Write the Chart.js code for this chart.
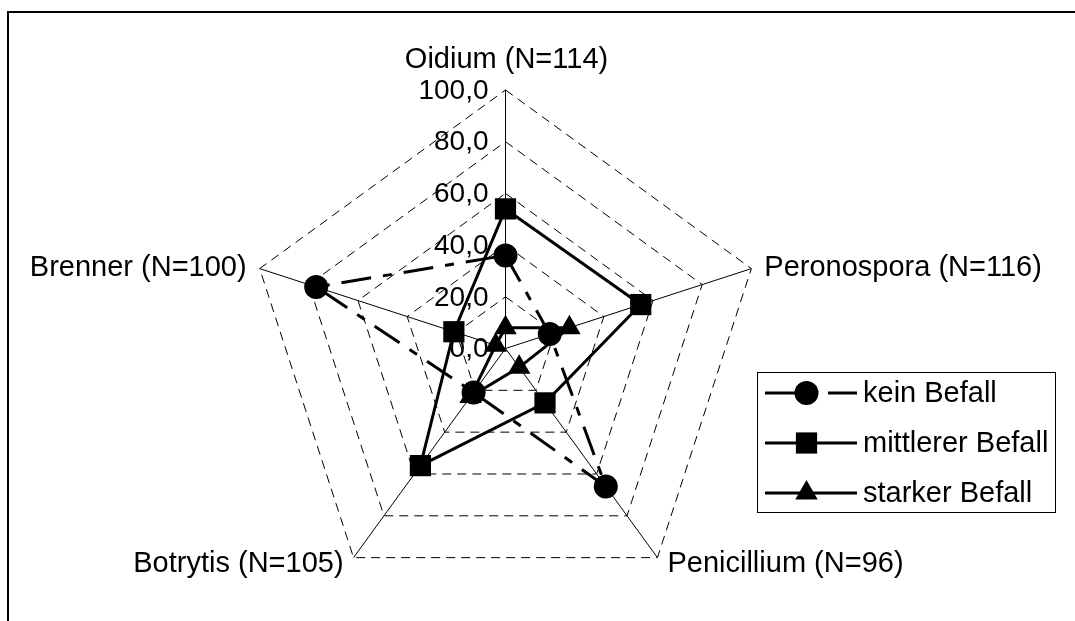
<!DOCTYPE html>
<html lang="de">
<head>
  <meta charset="UTF-8">
  <title>Befall Radar</title>
  <script src="https://cdn.jsdelivr.net/npm/chart.js"></script>
  <style>
    html, body { margin: 0; padding: 0; background: #fff; overflow: hidden; }
    #frame { position: absolute; left: 7px; top: 11px; width: 1200px; height: 800px; border: 2px solid #000; }
    canvas { position: absolute; left: 0; top: 0; }
  </style>
</head>
<body>
  <div id="frame"></div>
  <canvas id="radar" width="1075" height="621"></canvas>

  <script>
    // data
    const categories = ['Oidium (N=114)', 'Peronospora (N=116)', 'Penicillium (N=96)', 'Botrytis (N=105)', 'Brenner (N=100)'];
    const keinBefall = [36, 18, 66, 21, 77];
    const mittlererBefall = [54, 55, 26, 56, 21];
    const starkerBefall = [8, 26, 9, 23, 4];
    const tickValues = [0, 20, 40, 60, 80, 100];
    const tickLabels = ['0,0', '20,0', '40,0', '60,0', '80,0', '100,0'];

    const TICK_FONT = '28px "Liberation Sans", Arial, sans-serif';
    const FONT = '29px "Liberation Sans", Arial, sans-serif';

    // tick labels + category labels drawn through the radial scale
    const labelPlugin = {
      id: 'labels',
      beforeDatasetsDraw(chart) {
        const s = chart.scales.r;
        const ctx = chart.ctx;
        ctx.save();
        ctx.font = TICK_FONT;
        ctx.fillStyle = '#000';
        ctx.textAlign = 'right';
        ctx.textBaseline = 'middle';
        s.ticks.forEach(t => {
          const i = tickValues.indexOf(t.value);
          if (i < 0) return;
          const d = s.getDistanceFromCenterForValue(t.value);
          ctx.fillText(tickLabels[i], s.xCenter - 17, s.yCenter - d + 1);
        });
        ctx.font = FONT;
        categories.forEach((c, i) => {
          const p = s.getPointPosition(i, s.drawingArea);
          const cx = Math.cos(p.angle), sy = Math.sin(p.angle);
          if (Math.abs(cx) < 0.1) {
            ctx.textAlign = 'center';
            ctx.textBaseline = 'alphabetic';
            ctx.fillText(c, p.x + 1, p.y - 22);
          } else {
            ctx.textAlign = cx > 0 ? 'left' : 'right';
            ctx.textBaseline = 'middle';
            const dx = sy > 0.5 ? 10 : 13;
            const dy = sy > 0.5 ? 6 : -1;
            ctx.fillText(c, p.x + (cx > 0 ? dx : -dx), p.y + dy);
          }
        });
        ctx.restore();
      }
    };

    // legend box: line sample with marker, like the original
    const legendPlugin = {
      id: 'boxLegend',
      afterDraw(chart) {
        const ctx = chart.ctx;
        const x0 = 757.5, y0 = 372.5, w = 298, h = 140;
        ctx.save();
        ctx.fillStyle = '#fff';
        ctx.fillRect(x0, y0, w, h);
        ctx.strokeStyle = '#000';
        ctx.lineWidth = 1;
        ctx.strokeRect(x0, y0, w, h);
        chart.data.datasets.forEach((ds, i) => {
          const y = 393 + i * 50;
          ctx.strokeStyle = ds.borderColor;
          ctx.lineWidth = ds.borderWidth;
          ctx.setLineDash(ds.borderDash || []);
          ctx.beginPath();
          ctx.moveTo(765, y);
          ctx.lineTo(857, y);
          ctx.stroke();
          ctx.setLineDash([]);
          ctx.fillStyle = ds.pointBackgroundColor;
          ctx.lineWidth = 0;
          Chart.helpers.drawPoint(ctx, { pointStyle: ds.pointStyle, radius: ds.pointRadius, rotation: 0, borderWidth: 0 }, 806.5, y);
          ctx.fillStyle = '#000';
          ctx.font = FONT;
          ctx.textAlign = 'left';
          ctx.textBaseline = 'middle';
          ctx.fillText(ds.label, 863, y + 1);
        });
        ctx.restore();
      }
    };

    const common = {
      borderColor: '#000',
      backgroundColor: '#000',
      pointBackgroundColor: '#000',
      pointBorderColor: '#000',
      pointBorderWidth: 0,
      borderWidth: 3,
      fill: false
    };

    new Chart(document.getElementById('radar'), {
      type: 'radar',
      data: {
        labels: categories,
        datasets: [
          Object.assign({ label: 'kein Befall', data: keinBefall, borderDash: [30, 12, 9, 12], pointStyle: 'circle', pointRadius: 12 }, common),
          Object.assign({ label: 'mittlerer Befall', data: mittlererBefall, pointStyle: 'rect', pointRadius: 15 }, common),
          Object.assign({ label: 'starker Befall', data: starkerBefall, pointStyle: 'triangle', pointRadius: 13 }, common)
        ]
      },
      options: {
        responsive: false,
        animation: false,
        events: [],
        layout: { padding: 0 },
        plugins: { legend: { display: false }, tooltip: { enabled: false } },
        scales: {
          r: {
            min: 0,
            max: 100,
            ticks: { stepSize: 20, display: false },
            grid: { color: '#000', lineWidth: 1 },
            border: { dash: [9, 6] },
            angleLines: { color: '#000', lineWidth: 1 },
            pointLabels: { display: false },
            afterFit(scale) {
              scale.xCenter = 505.5;
              scale.yCenter = 348.5;
              scale.drawingArea = 258.5;
            }
          }
        }
      },
      plugins: [labelPlugin, legendPlugin]
    });
  </script>
</body>
</html>
